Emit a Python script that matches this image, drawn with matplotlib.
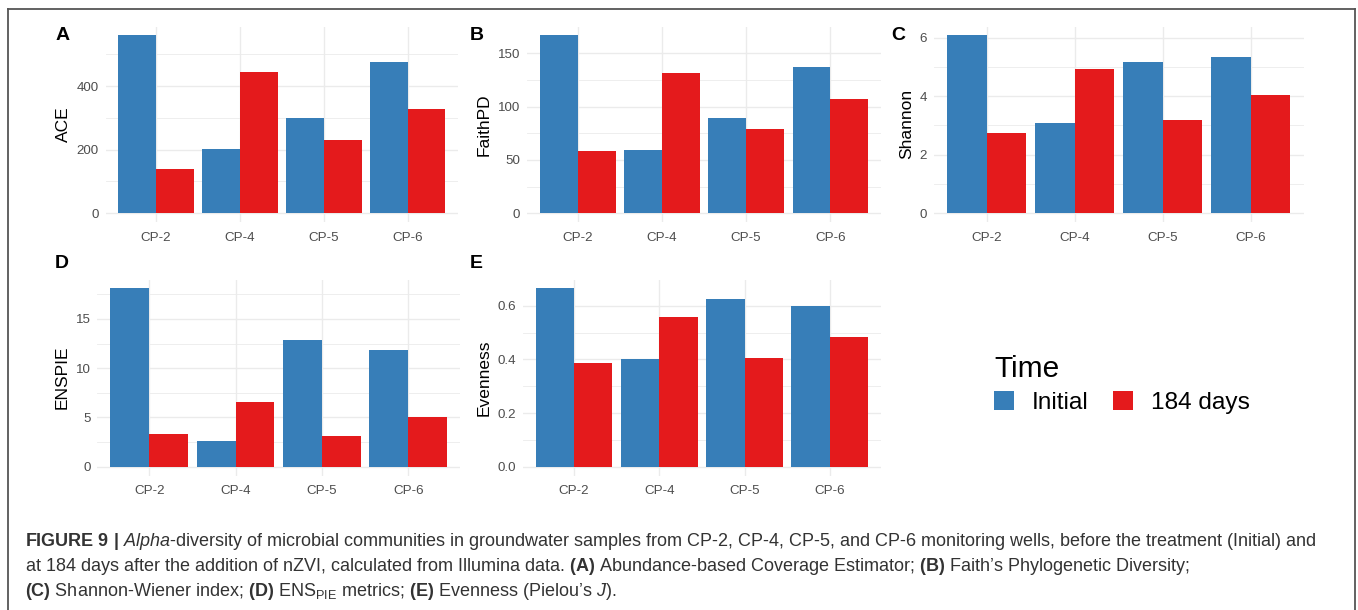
import numpy as np
import matplotlib
matplotlib.use("Agg")
from matplotlib import pyplot as plt
from matplotlib.lines import Line2D
from matplotlib.patches import Patch

plt.rcParams['font.family'] = ['Liberation Sans', 'DejaVu Sans']
plt.rcParams['mathtext.fontset'] = 'custom'
plt.rcParams['mathtext.rm'] = 'Liberation Sans'
plt.rcParams['mathtext.it'] = 'Liberation Sans:italic'
plt.rcParams['mathtext.bf'] = 'Liberation Sans:bold'

wells = ["CP-2", "CP-4", "CP-5", "CP-6"]
groups = ["Initial", "184 days"]
colors = ["#377EB8", "#E41A1C"]

ace_initial = [560, 203, 301, 476]
ace_184 = [140, 445, 230, 328]
faith_initial = [167, 59.5, 89, 137.5]
faith_184 = [58, 131.5, 79.5, 107]
shannon_initial = [6.08, 3.08, 5.16, 5.34]
shannon_184 = [2.74, 4.92, 3.18, 4.03]
enspie_initial = [18.1, 2.57, 12.87, 11.89]
enspie_184 = [3.35, 6.6, 3.08, 5.02]
even_initial = [0.665, 0.403, 0.625, 0.600]
even_184 = [0.386, 0.560, 0.405, 0.483]

W, H = 1358, 610
fig = plt.figure(figsize=(W / 100, H / 100), dpi=100)


def px_axes(left, top, right, bottom):
    return fig.add_axes([left / W, 1 - bottom / H, (right - left) / W, (bottom - top) / H])


def panel(box, initial, later, ylab, major, minor):
    ax = px_axes(*box)
    x = np.arange(1, len(wells) + 1)
    ax.bar(x - 0.225, initial, width=0.45, color=colors[0], zorder=3)
    ax.bar(x + 0.225, later, width=0.45, color=colors[1], zorder=3)
    top = max(max(initial), max(later))
    ax.set_ylim(-0.05 * top, 1.05 * top)
    ax.set_xlim(0.4, len(wells) + 0.6)
    ax.set_xticks(x)
    ax.set_xticklabels(wells)
    ax.set_yticks(major)
    ax.set_yticks(minor, minor=True)
    ax.grid(True, which="major", color="#EBEBEB", lw=1.0, zorder=0)
    ax.grid(True, which="minor", axis="y", color="#EBEBEB", lw=0.6, zorder=0)
    ax.set_axisbelow(True)
    for s in ax.spines.values():
        s.set_visible(False)
    ax.tick_params(which="both", length=0, labelsize=9.6, labelcolor="#4D4D4D", pad=5)
    ax.tick_params(axis="x", pad=7)
    ax.set_ylabel(ylab, fontsize=12.5, color="black", labelpad=4)
    return ax


a = panel((105.6, 26.5, 458, 222), ace_initial, ace_184, "ACE", [0, 200, 400], [100, 300, 500])
b = panel((527, 26.5, 881, 222), faith_initial, faith_184, "FaithPD", [0, 50, 100, 150], [25, 75, 125])
c = panel((934, 26.5, 1303.5, 222), shannon_initial, shannon_184, "Shannon", [0, 2, 4, 6], [1, 3, 5])
d = panel((97.5, 279.5, 460, 475.6), enspie_initial, enspie_184, "ENSPIE", [0, 5, 10, 15], [2.5, 7.5, 12.5, 17.5])
e = panel((522.8, 279.5, 881, 475.6), even_initial, even_184, "Evenness", [0, 0.2, 0.4, 0.6], [0.1, 0.3, 0.5])
e.set_yticklabels(["0.0", "0.2", "0.4", "0.6"])

# panel letters
for lab, xp, yp in [("A", 56, 35), ("B", 470, 35), ("C", 891, 35), ("D", 55, 263), ("E", 470, 263)]:
    fig.text(xp / W, 1 - yp / H, lab, fontsize=14, fontweight="bold", va="center", ha="left")

# legend
handles = [Patch(facecolor=colors[i], edgecolor="none") for i in range(2)]
leg = fig.legend(handles, groups, title="Time", loc="upper left",
                 bbox_to_anchor=(994 / W, 1 - 355 / H), ncol=2, frameon=False,
                 fontsize=17.6, title_fontsize=21.5, handlelength=0.8, handleheight=0.8,
                 handletextpad=0.75, columnspacing=1.0, borderpad=0, borderaxespad=0)
leg._legend_box.align = "left"
leg._legend_box.sep = 6

# caption
cap_col = "#333333"
lines = [
    r"$\mathbf{FIGURE\ 9\ |}$ $\mathit{Alpha}$-diversity of microbial communities in groundwater samples from CP-2, CP-4, CP-5, and CP-6 monitoring wells, before the treatment (Initial) and",
    r"at 184 days after the addition of nZVI, calculated from Illumina data. $\mathbf{(A)}$ Abundance-based Coverage Estimator; $\mathbf{(B)}$ Faith’s Phylogenetic Diversity;",
    r"$\mathbf{(C)}$ Shannon-Wiener index; $\mathbf{(D)}$ ENS$_{\mathrm{PIE}}$ metrics; $\mathbf{(E)}$ Evenness (Pielou’s $\mathit{J}$).",
]
for i, ln in enumerate(lines):
    fig.text(25 / W, 1 - (542 + 24.5 * i) / H, ln, fontsize=13, color=cap_col, va="center", ha="left")

# frame around figure
fc = "#555555"
fig.add_artist(Line2D([8 / W, 8 / W], [0, 1 - 9 / H], color=fc, lw=1.3, transform=fig.transFigure))
fig.add_artist(Line2D([8 / W, 1355 / W], [1 - 9 / H, 1 - 9 / H], color=fc, lw=1.3, transform=fig.transFigure))
fig.add_artist(Line2D([1355 / W, 1355 / W], [0, 1 - 9 / H], color=fc, lw=1.3, transform=fig.transFigure))

fig.savefig("out.png", dpi=100)
